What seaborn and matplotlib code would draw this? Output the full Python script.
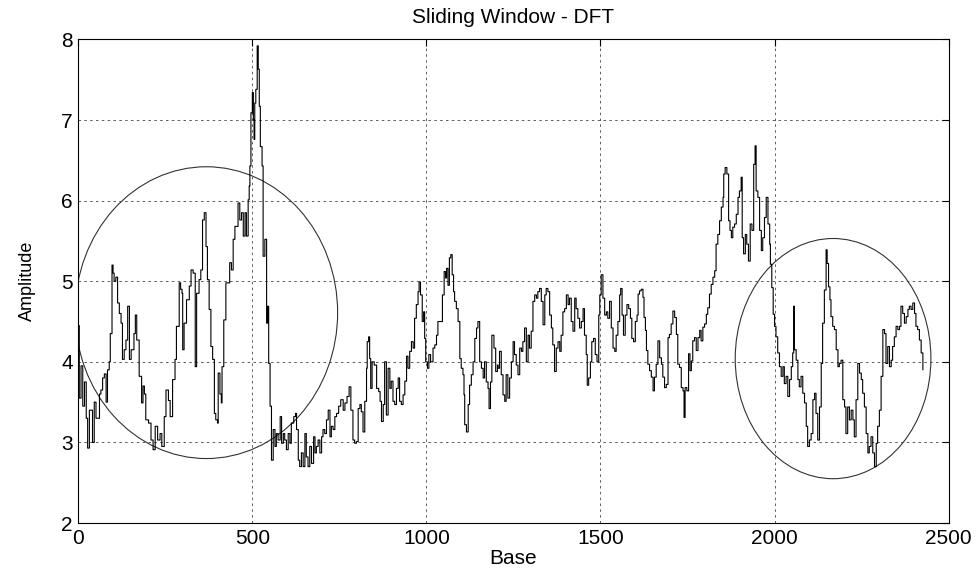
import matplotlib
matplotlib.use("Agg")
import matplotlib.pyplot as plt
from matplotlib.patches import Ellipse
import numpy as np
import pandas as pd
import seaborn as sns

# Sliding-window DFT amplitude along the sequence (base position, amplitude)
bases = [
    0, 3, 8, 13, 18, 23, 27, 32, 36, 41, 46, 51, 56, 61, 65, 70, 75, 80, 84, 89,
    92, 97, 100, 103, 108, 113, 118, 123, 127, 132, 137, 142, 147, 152, 156, 160, 164, 168, 175, 182,
    186, 190, 194, 202, 209, 215, 221, 228, 235, 240, 247, 252, 259, 264, 271, 278, 282, 290, 294, 298,
    300, 304, 311, 319, 324, 330, 336, 340, 347, 352, 357, 362, 367, 371, 376, 381, 386, 391, 395, 400,
    402, 407, 411, 413, 418, 424, 431, 435, 440, 445, 450, 455, 459, 464, 469, 474, 479, 483, 488, 491,
    493, 496, 500, 503, 505, 507, 510, 514, 517, 520, 523, 528, 531, 536, 541, 544, 547, 551, 555, 560,
    565, 569, 574, 580, 584, 589, 593, 598, 603, 608, 612, 619, 624, 627, 632, 636, 641, 646, 651, 655,
    660, 665, 670, 676, 680, 684, 689, 694, 699, 703, 708, 713, 718, 723, 727, 732, 737, 742, 748, 754,
    761, 766, 772, 778, 783, 789, 794, 799, 804, 809, 813, 818, 823, 828, 830, 834, 837, 840, 844, 850,
    854, 857, 863, 867, 871, 876, 880, 885, 890, 895, 899, 904, 909, 914, 919, 923, 928, 933, 938, 943,
    947, 952, 957, 962, 966, 971, 976, 979, 983, 988, 992, 995, 998, 1003, 1007, 1012, 1019, 1024, 1029, 1033,
    1041, 1046, 1051, 1055, 1058, 1062, 1066, 1070, 1074, 1078, 1081, 1086, 1091, 1096, 1100, 1105, 1108, 1110, 1115, 1120,
    1124, 1129, 1134, 1139, 1144, 1148, 1153, 1158, 1163, 1167, 1172, 1177, 1180, 1184, 1188, 1194, 1199, 1204, 1206, 1210,
    1215, 1220, 1225, 1229, 1234, 1239, 1244, 1249, 1253, 1258, 1263, 1268, 1273, 1277, 1282, 1287, 1292, 1296, 1301, 1306,
    1311, 1316, 1320, 1325, 1330, 1335, 1340, 1344, 1349, 1354, 1359, 1363, 1368, 1373, 1378, 1383, 1387, 1392, 1397, 1402,
    1407, 1411, 1416, 1421, 1426, 1430, 1435, 1440, 1445, 1450, 1454, 1459, 1462, 1466, 1471, 1475, 1480, 1485, 1490, 1495,
    1498, 1502, 1507, 1512, 1517, 1521, 1526, 1531, 1536, 1541, 1545, 1550, 1555, 1558, 1562, 1566, 1571, 1576, 1581, 1586,
    1590, 1595, 1600, 1605, 1608, 1612, 1617, 1622, 1625, 1629, 1632, 1636, 1641, 1646, 1651, 1655, 1660, 1665, 1670, 1675,
    1679, 1684, 1689, 1694, 1698, 1703, 1708, 1713, 1718, 1722, 1727, 1732, 1737, 1740, 1743, 1748, 1753, 1757, 1761, 1765,
    1770, 1775, 1780, 1785, 1789, 1794, 1799, 1804, 1808, 1813, 1818, 1823, 1828, 1832, 1837, 1842, 1847, 1852, 1854, 1858,
    1863, 1868, 1872, 1876, 1880, 1885, 1890, 1895, 1899, 1904, 1907, 1911, 1916, 1920, 1925, 1930, 1935, 1940, 1944, 1947,
    1952, 1957, 1962, 1966, 1971, 1976, 1981, 1986, 1988, 1992, 1996, 2000, 2004, 2009, 2014, 2019, 2024, 2028, 2033, 2038,
    2043, 2048, 2052, 2055, 2057, 2062, 2067, 2071, 2076, 2081, 2086, 2091, 2095, 2100, 2105, 2110, 2115, 2119, 2124, 2129,
    2134, 2138, 2143, 2148, 2151, 2155, 2159, 2162, 2167, 2172, 2177, 2182, 2186, 2191, 2196, 2201, 2205, 2210, 2215, 2220,
    2225, 2229, 2234, 2239, 2244, 2249, 2253, 2258, 2263, 2268, 2272, 2277, 2282, 2287, 2292, 2296, 2301, 2306, 2311, 2316,
    2320, 2325, 2330, 2335, 2339, 2344, 2349, 2354, 2359, 2363, 2368, 2373, 2378, 2383, 2387, 2392, 2397, 2402, 2406, 2411,
    2416, 2421, 2426,
]
amplitude = [
    4.45, 3.55, 3.95, 3.45, 3.75, 3.30, 2.93, 3.40, 3.40, 3.00, 3.50, 3.30, 3.30, 3.60, 3.65, 3.80, 3.85, 3.50, 3.90, 4.00,
    4.35, 5.20, 5.10, 5.00, 5.05, 4.73, 4.60, 4.48, 4.03, 4.15, 4.27, 4.69, 4.03, 4.15, 4.15, 4.35, 4.58, 4.27, 3.82, 3.49,
    3.70, 3.60, 3.28, 3.24, 3.03, 2.91, 3.20, 3.03, 3.11, 2.95, 3.32, 3.65, 3.52, 3.32, 3.78, 4.03, 4.44, 4.98, 4.90, 4.85,
    4.15, 4.48, 4.77, 4.94, 5.14, 5.10, 3.94, 4.85, 5.02, 5.14, 5.76, 5.85, 5.43, 5.02, 4.65, 4.19, 4.03, 3.36, 3.28, 3.24,
    3.86, 3.60, 3.49, 3.94, 4.52, 4.98, 4.98, 5.23, 5.14, 5.52, 5.68, 5.68, 5.97, 5.76, 5.85, 5.56, 5.85, 5.56, 6.01, 6.18,
    6.43, 7.09, 7.34, 7.00, 6.76, 7.21, 7.38, 7.92, 7.63, 7.17, 6.67, 6.43, 5.31, 5.52, 4.48, 4.69, 3.98, 3.45, 2.78, 3.16,
    2.95, 3.11, 3.03, 3.32, 2.99, 3.11, 3.03, 2.91, 3.11, 2.99, 3.24, 3.32, 3.36, 3.16, 2.78, 2.70, 2.87, 2.70, 3.11, 2.82,
    2.70, 2.95, 2.74, 3.07, 2.87, 2.95, 3.03, 2.87, 3.07, 3.16, 3.11, 3.28, 3.40, 3.07, 3.20, 3.16, 3.32, 3.36, 3.45, 3.53,
    3.40, 3.49, 3.57, 3.69, 3.40, 3.03, 2.99, 3.01, 3.42, 3.47, 3.38, 3.13, 3.51, 3.92, 4.25, 4.31, 4.04, 3.67, 4.00, 3.96,
    3.96, 3.67, 3.63, 3.51, 3.26, 3.47, 4.00, 3.34, 3.92, 3.67, 3.76, 3.51, 3.47, 3.67, 3.80, 3.51, 3.47, 3.59, 3.76, 4.07,
    3.92, 4.13, 4.25, 4.17, 4.54, 4.71, 4.87, 4.99, 4.83, 4.50, 4.62, 4.29, 4.00, 3.92, 4.09, 4.00, 4.17, 4.21, 4.33, 4.50,
    4.50, 4.83, 5.12, 5.04, 5.16, 4.95, 5.29, 5.33, 5.08, 4.87, 4.75, 4.66, 4.50, 4.04, 3.92, 3.84, 3.59, 3.22, 3.13, 3.47,
    3.71, 3.84, 4.00, 4.29, 4.42, 4.50, 4.00, 3.92, 3.80, 4.00, 3.75, 3.67, 3.42, 3.75, 4.33, 4.17, 3.88, 3.96, 3.92, 4.13,
    3.84, 3.59, 3.51, 3.84, 3.55, 3.80, 4.00, 4.25, 4.09, 3.96, 3.84, 4.17, 4.13, 4.25, 4.42, 4.00, 4.33, 4.17, 4.38, 4.75,
    4.83, 4.79, 4.87, 4.91, 4.75, 4.46, 4.83, 4.91, 4.87, 4.58, 4.42, 4.21, 3.88, 4.17, 4.25, 4.13, 4.33, 4.62, 4.66, 4.83,
    4.71, 4.79, 4.50, 4.38, 4.79, 4.66, 4.54, 4.42, 4.50, 4.66, 4.33, 4.09, 3.71, 3.80, 4.00, 4.25, 4.29, 4.09, 4.00, 4.58,
    4.83, 5.08, 4.79, 4.58, 4.62, 4.54, 4.75, 4.42, 4.17, 4.13, 4.33, 4.50, 4.83, 4.91, 4.58, 4.33, 4.58, 4.71, 4.66, 4.54,
    4.29, 4.25, 4.50, 4.58, 4.84, 4.88, 4.90, 4.80, 4.55, 4.39, 4.14, 3.97, 3.89, 3.81, 3.64, 3.81, 3.97, 4.26, 4.05, 3.97,
    3.81, 3.68, 3.72, 4.30, 4.34, 4.47, 4.63, 4.55, 4.34, 3.97, 3.93, 3.68, 3.64, 3.31, 3.68, 3.64, 4.10, 3.89, 4.01, 4.26,
    4.30, 4.14, 4.30, 4.39, 4.26, 4.43, 4.47, 4.59, 4.67, 4.84, 4.96, 5.05, 5.13, 5.46, 5.58, 5.75, 5.92, 6.04, 6.33, 6.41,
    6.33, 5.75, 5.63, 5.54, 5.67, 5.71, 5.83, 6.04, 6.12, 6.29, 5.54, 5.34, 5.58, 5.46, 5.25, 5.71, 5.63, 6.45, 6.68, 6.12,
    6.04, 5.63, 5.38, 5.54, 5.79, 6.04, 5.71, 5.46, 5.21, 4.92, 4.59, 4.44, 4.31, 4.11, 3.94, 3.82, 3.94, 3.73, 3.82, 3.57,
    3.78, 3.94, 4.11, 4.69, 4.15, 4.02, 3.78, 3.69, 3.82, 3.61, 3.49, 3.20, 2.95, 3.03, 3.11, 3.53, 3.61, 3.36, 3.03, 3.44,
    3.98, 4.48, 4.89, 5.39, 5.22, 4.93, 4.77, 4.56, 4.44, 4.40, 4.15, 3.94, 3.98, 4.02, 3.53, 3.44, 3.11, 3.44, 3.28, 3.40,
    3.28, 3.07, 3.53, 3.98, 3.86, 3.78, 3.61, 3.44, 3.11, 2.87, 2.95, 3.07, 2.87, 2.70, 2.99, 3.20, 3.40, 3.82, 4.40, 4.35,
    3.98, 4.19, 3.94, 4.02, 4.19, 4.31, 4.44, 4.40, 4.44, 4.69, 4.60, 4.48, 4.56, 4.65, 4.69, 4.65, 4.73, 4.60, 4.44, 4.40,
    4.27, 4.11, 3.90,
]

# Highlighted regions: (centre base, centre amplitude, width in bases, height in amplitude)
region_centres_x = [368, 2168]
region_centres_y = [4.61, 4.04]
region_widths = [754, 562]
region_heights = [3.62, 2.98]

x_ticks = [0, 500, 1000, 1500, 2000, 2500]
y_ticks = [2, 3, 4, 5, 6, 7, 8]

sns.set_theme(style="white")
plt.rcParams["font.family"] = ["Liberation Sans", "DejaVu Sans"]
plt.rcParams["xtick.direction"] = "in"
plt.rcParams["ytick.direction"] = "in"

fig = plt.figure(figsize=(9.78, 5.71), dpi=100)
ax = fig.add_axes([0.080, 0.084, 0.890, 0.847])

df = pd.DataFrame({"Base": bases, "Amplitude": amplitude})
sns.lineplot(data=df, x="Base", y="Amplitude", ax=ax, color="black",
             linewidth=0.8, sort=False, estimator=None, drawstyle="steps-post")

for cx, cy, w, h in zip(region_centres_x, region_centres_y, region_widths, region_heights):
    ax.add_patch(Ellipse((cx, cy), w, h, fill=False, edgecolor="#333333", linewidth=0.8))

ax.set_xlim(0, 2500)
ax.set_ylim(2, 8)
ax.set_xticks(x_ticks)
ax.set_yticks(y_ticks)
ax.tick_params(axis="both", labelsize=15, length=5, width=0.8, color="black",
               labelcolor="black", top=True, right=True, pad=4)
ax.grid(True, linestyle=(0, (3, 4)), color="#444444", linewidth=0.6)

for side in ["top", "bottom", "left", "right"]:
    ax.spines[side].set_visible(True)
    ax.spines[side].set_color("black")
    ax.spines[side].set_linewidth(0.8)

ax.set_title("Sliding Window - DFT", fontsize=15, pad=12, color="black")
ax.set_xlabel("Base", fontsize=15, labelpad=1, color="black")
ax.set_ylabel("Amplitude", fontsize=13, labelpad=18, color="black")

fig.savefig("out.png", dpi=100)
